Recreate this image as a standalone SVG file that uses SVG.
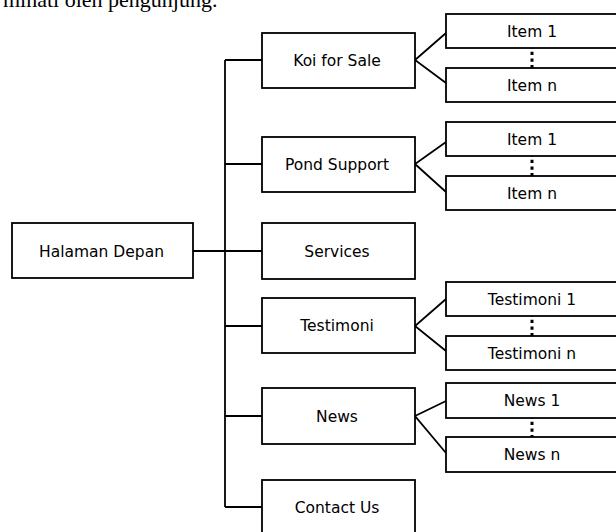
<svg xmlns="http://www.w3.org/2000/svg" width="616" height="532" viewBox="0 0 616 532">
  <style>
    .box { fill: #ffffff; stroke: #000000; stroke-width: 1.8; }
    .lbl { font-family: "DejaVu Sans", Verdana, sans-serif; font-size: 15.5px; fill: #000000; text-anchor: middle; }
    .ln { fill: none; stroke: #000000; stroke-width: 1.8; }
    .dots { fill: none; stroke: #000000; stroke-width: 3; stroke-dasharray: 3.4 3.3; }
    .top { font-family: "Liberation Serif", "Times New Roman", serif; font-size: 22px; fill: #000000; }
  </style>
  <rect x="0" y="0" width="616" height="532" fill="#ffffff"/>
  <text class="top" x="3" y="7">minati oleh pengunjung.</text>

  <g id="connectors">
    <line class="ln" x1="193" y1="251" x2="262" y2="251"/>
    <line class="ln" x1="225" y1="60" x2="225" y2="507"/>
    <line class="ln" x1="225" y1="60" x2="262" y2="60"/>
    <line class="ln" x1="225" y1="164" x2="262" y2="164"/>
    <line class="ln" x1="225" y1="326" x2="262" y2="326"/>
    <line class="ln" x1="225" y1="416" x2="262" y2="416"/>
    <line class="ln" x1="225" y1="507" x2="262" y2="507"/>
    <polyline class="ln" points="446,33 415,60 446,83"/>
    <polyline class="ln" points="446,142 415,164 446,192"/>
    <polyline class="ln" points="446,299 415,326 446,351"/>
    <polyline class="ln" points="446,401 415,416 446,453"/>
    <line class="dots" x1="532" y1="45" x2="532" y2="68"/>
    <line class="dots" x1="532" y1="153" x2="532" y2="176"/>
    <line class="dots" x1="532" y1="313" x2="532" y2="336"/>
    <line class="dots" x1="532" y1="415" x2="532" y2="438"/>
  </g>

  <g id="halaman-depan">
    <rect class="box" x="12" y="223" width="181" height="55"/>
    <text class="lbl" x="101.5" y="257">Halaman Depan</text>
  </g>

  <g id="koi-for-sale">
    <rect class="box" x="262" y="33" width="153" height="55"/>
    <text class="lbl" x="337" y="66">Koi for Sale</text>
  </g>
  <g id="pond-support">
    <rect class="box" x="262" y="137" width="153" height="55"/>
    <text class="lbl" x="337" y="170">Pond Support</text>
  </g>
  <g id="services">
    <rect class="box" x="262" y="223" width="153" height="56"/>
    <text class="lbl" x="337" y="257">Services</text>
  </g>
  <g id="testimoni">
    <rect class="box" x="262" y="298" width="153" height="55"/>
    <text class="lbl" x="337" y="331">Testimoni</text>
  </g>
  <g id="news">
    <rect class="box" x="262" y="388" width="153" height="56"/>
    <text class="lbl" x="337" y="422">News</text>
  </g>
  <g id="contact-us">
    <rect class="box" x="262" y="480" width="153" height="60"/>
    <text class="lbl" x="337" y="513">Contact Us</text>
  </g>

  <g id="koi-item-1">
    <rect class="box" x="446" y="14" width="172" height="34"/>
    <text class="lbl" x="532" y="37">Item 1</text>
  </g>
  <g id="koi-item-n">
    <rect class="box" x="446" y="68" width="172" height="34"/>
    <text class="lbl" x="532" y="91">Item n</text>
  </g>
  <g id="pond-item-1">
    <rect class="box" x="446" y="122" width="172" height="34"/>
    <text class="lbl" x="532" y="145">Item 1</text>
  </g>
  <g id="pond-item-n">
    <rect class="box" x="446" y="176" width="172" height="34"/>
    <text class="lbl" x="532" y="199">Item n</text>
  </g>
  <g id="testimoni-1">
    <rect class="box" x="446" y="282" width="172" height="34"/>
    <text class="lbl" x="532" y="305">Testimoni 1</text>
  </g>
  <g id="testimoni-n">
    <rect class="box" x="446" y="336" width="172" height="34"/>
    <text class="lbl" x="532" y="359">Testimoni n</text>
  </g>
  <g id="news-1">
    <rect class="box" x="446" y="383" width="172" height="35"/>
    <text class="lbl" x="532" y="406">News 1</text>
  </g>
  <g id="news-n">
    <rect class="box" x="446" y="437" width="172" height="35"/>
    <text class="lbl" x="532" y="460">News n</text>
  </g>
</svg>
